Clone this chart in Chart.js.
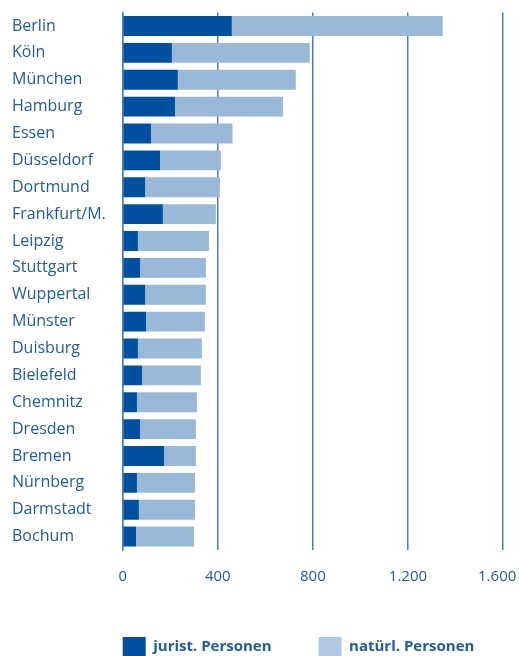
<!DOCTYPE html>
<html>
<head>
<meta charset="utf-8">
<script src="https://cdn.jsdelivr.net/npm/chart.js@4"></script>
<style>
  body { margin: 0; background: #fff; }
</style>
</head>
<body>
<canvas id="myChart" width="519" height="656"></canvas>
<script>
const cities = ["Berlin", "Köln", "München", "Hamburg", "Essen", "Düsseldorf", "Dortmund",
  "Frankfurt/M.", "Leipzig", "Stuttgart", "Wuppertal", "Münster", "Duisburg", "Bielefeld",
  "Chemnitz", "Dresden", "Bremen", "Nürnberg", "Darmstadt", "Bochum"];
// juristische Personen
const jurist = [459, 207, 232, 220, 119, 157, 94, 169, 64, 73, 94, 98, 64, 81, 60, 73, 174, 60, 68, 56];
// natürliche Personen
const natuerl = [887, 580, 496, 454, 343, 256, 315, 223, 299, 277, 256, 248, 269, 248, 252, 235, 134, 244, 236, 244];
const xTicks = [0, 400, 800, 1200, 1600];

const textColor = "#1f5ba6";
const gridColor = "#4a7fbf";
const font = "'Open Sans', 'Noto Sans', sans-serif";

// legend sits under the plot, first box lined up with the 0 axis
const legendShift = {
  id: "legendShift",
  afterLayout(chart) {
    const lg = chart.legend;
    lg.left = chart.chartArea.left - lg.options.labels.padding;
    lg.right = chart.width + 300;
  },
};

const fmt = (v) => String(v).replace(/\B(?=(\d{3})+(?!\d))/g, ".");

const ctx = document.getElementById("myChart").getContext("2d");
const myChart = new Chart(ctx, {
  type: "bar",
  data: {
    labels: cities,
    datasets: [
      {
        label: "jurist. Personen",
        data: jurist,
        backgroundColor: "#0050a0",
        barPercentage: 0.74,
        categoryPercentage: 1,
      },
      {
        label: "natürl. Personen",
        data: natuerl,
        backgroundColor: "#9ab8d8",
        barPercentage: 0.74,
        categoryPercentage: 1,
      },
    ],
  },
  options: {
    indexAxis: "y",
    responsive: false,
    animation: false,
    layout: { padding: { top: 9, left: 12, right: 16, bottom: 0 } },
    scales: {
      x: {
        stacked: true,
        min: 0,
        max: 1600,
        afterBuildTicks: (scale) => {
          scale.ticks = xTicks.map((v) => ({ value: v }));
        },
        afterFit: (scale) => {
          scale.height = 40;
          scale.paddingLeft = 0;
          scale.paddingRight = 0;
        },
        ticks: {
          color: textColor,
          font: { family: font, size: 15 },
          padding: 18,
          // last label nudged left so it stays inside the canvas
          callback: (v) => (v === 1600 ? fmt(v) + "   " : fmt(v)),
        },
        grid: { color: gridColor, lineWidth: 1.5, drawTicks: false },
        border: { display: false },
      },
      y: {
        stacked: true,
        afterFit: (scale) => {
          scale.width = 110.7;
        },
        ticks: {
          color: textColor,
          font: { family: font, size: 16 },
          crossAlign: "far",
          autoSkip: false,
        },
        grid: { display: false },
        border: { display: true, color: gridColor, width: 1.5 },
      },
    },
    plugins: {
      tooltip: { enabled: false },
      legend: {
        position: "bottom",
        align: "start",
        maxHeight: 66,
        labels: {
          padding: 47,
          boxWidth: 23,
          boxHeight: 20,
          color: textColor,
          font: { family: font, size: 15, weight: "bold" },
          generateLabels: (chart) => {
            const items = Chart.defaults.plugins.legend.labels.generateLabels(chart);
            items.forEach((it) => {
              it.lineWidth = 0;
              if (it.datasetIndex === 1) it.fillStyle = "#b1c8e4";
            });
            return items;
          },
        },
      },
    },
  },
  plugins: [legendShift],
});
</script>
</body>
</html>
